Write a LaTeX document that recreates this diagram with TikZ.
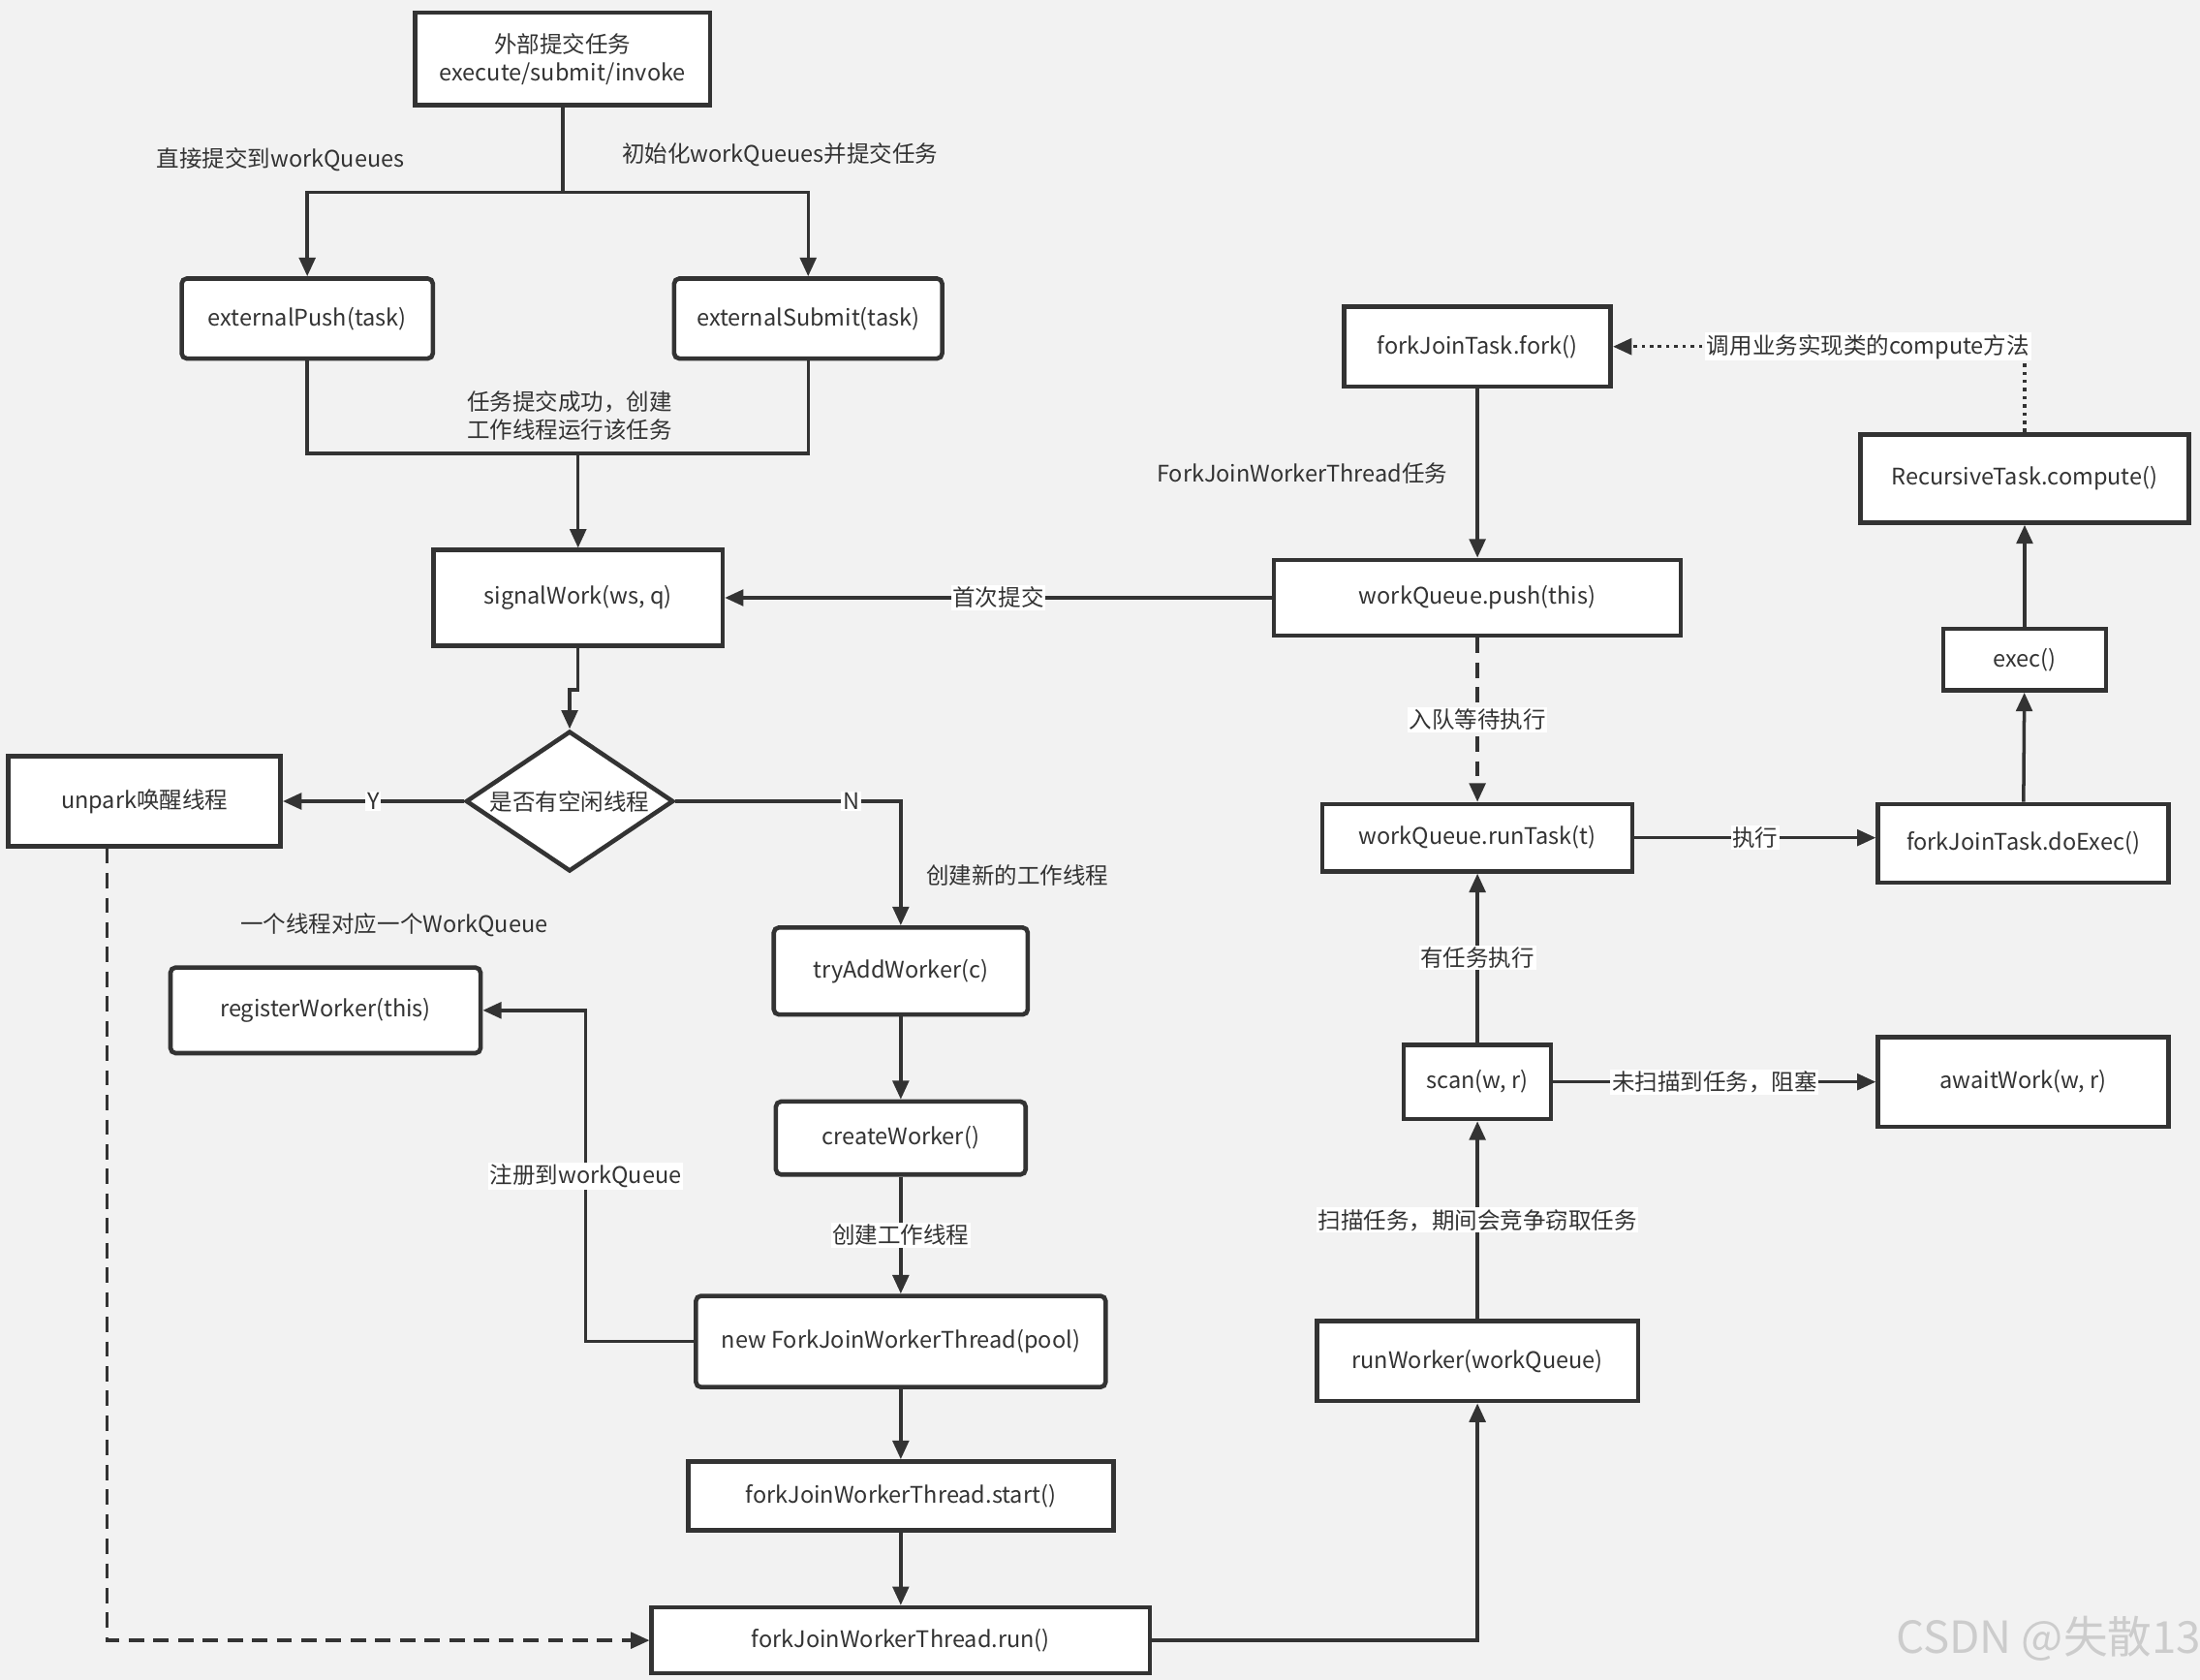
\documentclass[tikz,border=0pt]{standalone}
\usepackage{fontspec}
\setmainfont{Noto Sans CJK SC}
\usetikzlibrary{arrows.meta,shapes.geometric,calc}
\definecolor{linegray}{HTML}{333333}
\definecolor{bggray}{HTML}{F2F2F2}
\newcommand{\pxu}{0.029cm}

\begin{document}
\begin{tikzpicture}[x=0.029cm,y=-0.029cm,
    font=\fontsize{13.4pt}{16.5pt}\selectfont,text=linegray,
    box/.style 2 args={draw=linegray,fill=white,line width=2.6pt,inner sep=0pt,
        minimum width=#1*\pxu,minimum height=#2*\pxu,align=center},
    rbox/.style 2 args={box={#1}{#2},rounded corners=3pt},
    decision/.style={diamond,aspect=1.48,draw=linegray,fill=white,line width=2.6pt,
        inner sep=0pt,minimum width=148*\pxu,minimum height=100*\pxu},
    link/.style={draw=linegray,line width=2pt},
    arr/.style={link,-{Triangle[length=11pt,width=9.5pt]}},
    dashline/.style={dash pattern=on 9pt off 5.5pt},
    dotline/.style={dash pattern=on 2pt off 2.8pt},
    lbl/.style={fill=white,inner sep=1pt},
    note/.style={inner sep=1pt}]

  \path[use as bounding box,fill=bggray] (0,0) rectangle (1568,1197);

  \node[box={210}{66}] (submit) at (401,42) {外部提交任务\\execute/submit/invoke};
  \node[rbox={179}{57}] (extPush) at (219,227) {externalPush(task)};
  \node[rbox={191}{57}] (extSubmit) at (576,227) {externalSubmit(task)};
  \node[box={206}{68}] (signal) at (412,426) {signalWork(ws, q)};
  \node[decision] (idle) at (406,571) {是否有空闲线程};
  \node[box={194}{64}] (unpark) at (103,571) {unpark唤醒线程};
  \node[rbox={181}{62}] (tryAdd) at (642,692) {tryAddWorker(c)};
  \node[rbox={178}{52}] (create) at (642,811) {createWorker()};
  \node[rbox={292}{65}] (newThread) at (642,956) {new ForkJoinWorkerThread(pool)};
  \node[box={303}{49}] (start) at (642,1066) {forkJoinWorkerThread.start()};
  \node[box={355}{47}] (run) at (642,1169) {forkJoinWorkerThread.run()};
  \node[rbox={221}{61}] (register) at (232,720) {registerWorker(this)};
  \node[box={229}{57}] (runWorker) at (1053,970) {runWorker(workQueue)};
  \node[box={105}{53}] (scan) at (1053,771) {scan(w, r)};
  \node[box={207}{64}] (await) at (1442,771) {awaitWork(w, r)};
  \node[box={221}{48}] (runTask) at (1053,597) {workQueue.runTask(t)};
  \node[box={207}{56}] (doExec) at (1442,601) {forkJoinTask.doExec()};
  \node[box={116}{44}] (exec) at (1443,470) {exec()};
  \node[box={234}{63}] (compute) at (1443,341) {RecursiveTask.compute()};
  \node[box={190}{57}] (fork) at (1053,247) {forkJoinTask.fork()};
  \node[box={290}{54}] (wqPush) at (1053,426) {workQueue.push(this)};

  \node[note] (directTxt) at (200,114) {直接提交到workQueues};
  \node[note] (initTxt) at (556,110) {初始化workQueues并提交任务};
  \node[note,align=left] (okTxt) at (406,296) {任务提交成功，创建\\工作线程运行该任务};
  \node[note] (newTxt) at (725,624) {创建新的工作线程};
  \node[note] (oneTxt) at (281,659) {一个线程对应一个WorkQueue};
  \node[font=\fontsize{26pt}{30pt}\selectfont,text=gray!40] (mark) at (1460,1168) {CSDN @失散13};

  \coordinate (split) at (401,137);
  \coordinate (join) at (412,323);
  \draw[link] (submit) -- (split);
  \draw[arr] (split) -| (extPush);
  \draw[arr] (split) -| (extSubmit);
  \draw[link] (extPush) |- (join);
  \draw[link] (extSubmit) |- (join);
  \draw[arr] (join) -- (signal);

  \draw[arr] (signal.south) -- ++(0,30) -| (idle.north);
  \draw[arr] (idle) -- node[lbl]{Y} (unpark);
  \draw[arr] (idle.east) -| node[lbl,pos=0.39]{N} (tryAdd.north);
  \draw[arr] (tryAdd) -- (create);
  \draw[arr] (create) -- node[lbl]{创建工作线程} (newThread);
  \draw[arr] (newThread) -- (start);
  \draw[arr] (start) -- (run);
  \draw[arr] (newThread.west) -- ++(-77,0) |- node[lbl,pos=0.25]{注册到workQueue} (register.east);
  \draw[arr,dashline] ($(unpark.south west)+(72,0)$) |- (run.west);

  \draw[arr] (run.east) -| (runWorker.south);
  \draw[arr] (runWorker) -- node[lbl]{扫描任务，期间会竞争窃取任务} (scan);
  \draw[arr] (scan) -- node[lbl]{未扫描到任务，阻塞} (await);
  \draw[arr] (scan) -- node[lbl]{有任务执行} (runTask);
  \draw[arr] (runTask.east) -- node[lbl]{执行} (runTask.east -| doExec.west);
  \draw[arr] (doExec) -- (exec);
  \draw[arr] (exec) -- (compute);
  \draw[arr,dotline] (compute.north) |- node[lbl,pos=0.69]{调用业务实现类的compute方法} (fork.east);
  \draw[arr] (fork) -- node[note,left,xshift=-0.55cm]{ForkJoinWorkerThread任务} (wqPush);
  \draw[arr] (wqPush) -- node[lbl]{首次提交} (signal);
  \draw[arr,dashline] (wqPush) -- node[lbl]{入队等待执行} (runTask);

\end{tikzpicture}
\end{document}
